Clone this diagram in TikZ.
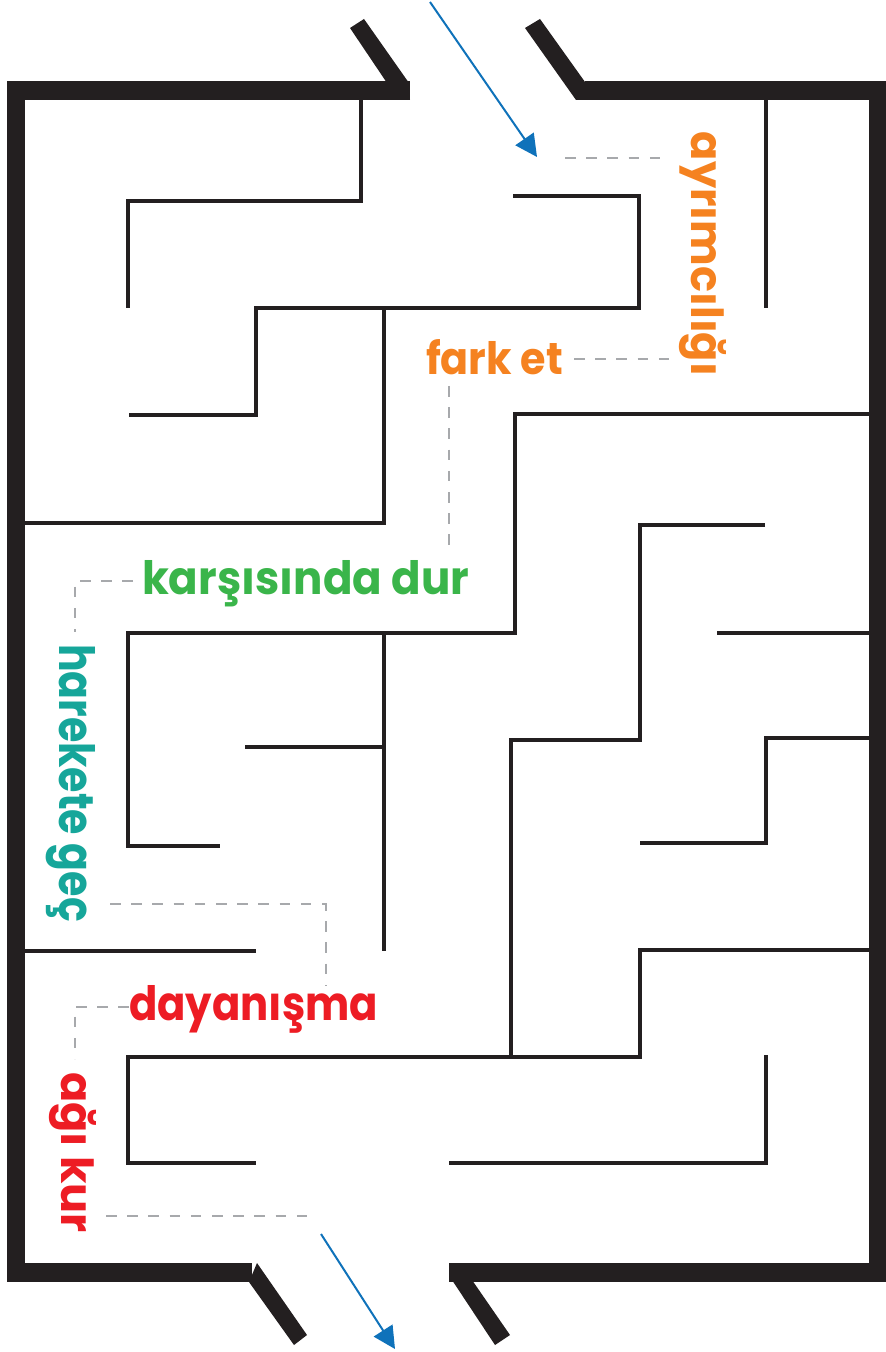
\documentclass[tikz,border=0pt]{standalone}
\usepackage{fontspec}
\usepackage{graphicx}
\newfontfamily\labfont{Poppins}
\usetikzlibrary{arrows.meta}
\definecolor{wallc}{HTML}{231F20}
\definecolor{orangec}{HTML}{F58220}
\definecolor{greenc}{HTML}{3AB54A}
\definecolor{tealc}{HTML}{16A69A}
\definecolor{redc}{HTML}{ED1C24}
\definecolor{arrowc}{HTML}{0F72BA}
\definecolor{guidec}{HTML}{A7A9AC}
\tikzset{
  wall/.style={draw=wallc, line width=2.3pt, line join=miter},
  outerwall/.style={draw=wallc, line width=9.4pt, line join=miter},
  flap/.style={fill=wallc, draw=none},
  guide/.style={draw=guidec, line width=1.3pt, dash pattern=on 5.3pt off 5.3pt},
  bluearrow/.style={draw=arrowc, line width=1pt, -{Triangle[length=11pt,width=11pt]}},
  lab/.style={inner sep=0pt, outer sep=0pt, font=\labfont\bfseries},
}
\begin{document}
\begin{tikzpicture}[x=0.5pt,y=-0.5pt]
\useasboundingbox (0,0) rectangle (886,1352);
% outer walls
\draw[outerwall] (410,90.5) -- (16,90.5) -- (16,1272.5) -- (252,1272.5);
\draw[outerwall] (585,90.5) -- (878.5,90.5) -- (878.5,1272.5) -- (449,1272.5);
% door flaps
\fill[flap] (350,28) -- (364,19) -- (409,83) -- (387,83) -- cycle;
\fill[flap] (525,28) -- (540,19) -- (590,89) -- (590,100) -- (576,100) -- cycle;
\fill[flap] (249,1282) -- (294,1345) -- (307,1335) -- (257,1263) -- cycle;
\fill[flap] (452,1280) -- (495,1345) -- (510,1335) -- (472,1280) -- cycle;
% inner walls
\draw[wall] (361,98) -- (361,201) -- (128,201) -- (128,308);
\draw[wall] (513,196) -- (639,196) -- (639,308) -- (256,308) -- (256,415) -- (129,415);
\draw[wall] (384,308) -- (384,523) -- (22,523);
\draw[wall] (766,98) -- (766,308);
\draw[wall] (872,414) -- (515,414) -- (515,633) -- (128,633) -- (128,846) -- (220,846);
\draw[wall] (384,633) -- (384,951);
\draw[wall] (245,747) -- (384,747);
\draw[wall] (765,525) -- (640,525) -- (640,740) -- (511,740) -- (511,1057);
\draw[wall] (717,633) -- (872,633);
\draw[wall] (872,738) -- (766,738) -- (766,843) -- (640,843);
\draw[wall] (22,951) -- (256,951);
\draw[wall] (872,950) -- (640,950) -- (640,1057) -- (128,1057) -- (128,1163) -- (256,1163);
\draw[wall] (449,1163) -- (766,1163) -- (766,1055);
% labels
\node[lab, text=orangec, anchor=base west] (fark) at (426,375) {\resizebox{68.5pt}{17.5pt}{fark et}};
\node[lab, text=orangec, rotate=-90, anchor=base west] (ayr) at (691,132) {\resizebox{122pt}{17.5pt}{ayrımcılığı}};
\node[lab, text=greenc, anchor=base west] (kars) at (142,594) {\resizebox{163.5pt}{17pt}{karşısında dur}};
\node[lab, text=tealc, rotate=-90, anchor=base west] (hare) at (59,644) {\resizebox{139pt}{18pt}{harekete geç}};
\node[lab, text=redc, anchor=base west] (daya) at (129,1020) {\resizebox{124.5pt}{17.5pt}{dayanışma}};
\node[lab, text=redc, rotate=-90, anchor=base west] (agi) at (61,1072) {\resizebox{80.5pt}{17.5pt}{ağı kur}};
% guide dashes
\coordinate (g1a) at (565,158); \coordinate (g1b) at (660,158);
\coordinate (g2a) at (574,359); \coordinate (g2b) at (671,359);
\coordinate (g3a) at (449,386); \coordinate (g3b) at (449,547);
\coordinate (g4a) at (133,581); \coordinate (g4c) at (75,581); \coordinate (g4b) at (75,632);
\coordinate (g5a) at (110,904); \coordinate (g5c) at (326,904); \coordinate (g5b) at (326,985);
\coordinate (g6a) at (129,1007); \coordinate (g6c) at (75,1007); \coordinate (g6b) at (75,1059);
\coordinate (g7a) at (106,1216); \coordinate (g7b) at (308,1216);
\draw[guide] (g1a) -- (g1b);
\draw[guide] (g2a) -- (g2b);
\draw[guide] (g3a) -- (g3b);
\draw[guide] (g4a) -- (g4c) -- (g4b);
\draw[guide] (g5a) -- (g5c) -- (g5b);
\draw[guide] (g6a) -- (g6c) -- (g6b);
\draw[guide] (g7a) -- (g7b);
% arrows
\coordinate (in1) at (430,2); \coordinate (in2) at (537,157);
\coordinate (out1) at (321,1234); \coordinate (out2) at (395,1349);
\draw[bluearrow] (in1) -- (in2);
\draw[bluearrow] (out1) -- (out2);
\end{tikzpicture}
\end{document}
